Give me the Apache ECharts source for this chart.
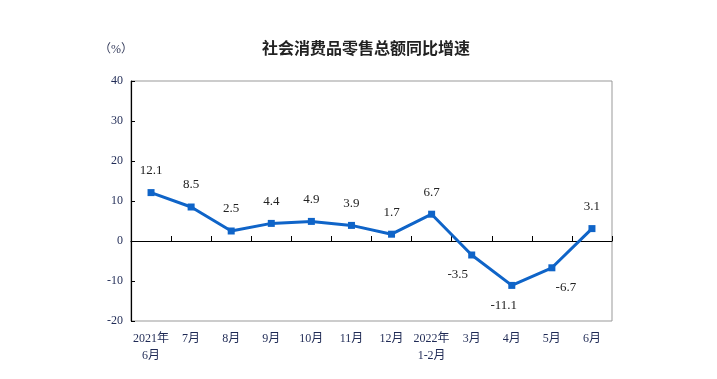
<!DOCTYPE html>
<html><head><meta charset="utf-8">
<script src="https://cdn.jsdelivr.net/npm/echarts@6/dist/echarts.min.js"></script>
<style>html,body{margin:0;padding:0;background:#fff}#c{width:717px;height:379px}</style>
</head><body><div id="c"></div>
<script>
var categories = ['2021年\n6月','7月','8月','9月','10月','11月','12月','2022年\n1-2月','3月','4月','5月','6月'];
var values = [12.1, 8.5, 2.5, 4.4, 4.9, 3.9, 1.7, 6.7, -3.5, -11.1, -6.7, 3.1];
var yTicks = [-20, -10, 0, 10, 20, 30, 40];
var title = '社会消费品零售总额同比增速';
var unit = '（%）';

var serif = '"Liberation Serif","Noto Sans CJK SC",serif';
var chart = echarts.init(document.getElementById('c'));
var data = values.map(function (v, i) {
  var lab = {};
  if (v < 0) {
    lab = { position: 'bottom', distance: 10 };
    if (i === 8) lab.offset = [-14, 0];
    if (i === 9) lab.offset = [-8, 0];
    if (i === 10) lab.offset = [14, 0];
  }
  return { value: v, label: lab };
});
chart.setOption({
  animation: false,
  title: { text: title, left: 361, textAlign: 'center', top: 35,
    textStyle: { fontFamily: '"Noto Sans CJK SC",sans-serif', fontSize: 16, fontWeight: 'bold', color: '#222' } },
  graphic: [{ type: 'text', left: 99, top: 44, style: { text: unit, fontFamily: serif, fontSize: 12, fill: '#333a5a' } }],
  grid: { left: 131, right: 105, top: 81, bottom: 58, show: true, borderColor: '#999', borderWidth: 1 },
  xAxis: [{
    type: 'category', data: categories, position: 'bottom',
    axisLine: { show: false, onZero: false }, axisTick: { show: false },
    axisLabel: { interval: 0, margin: 9, fontFamily: serif, fontSize: 12, color: '#1f2a55', lineHeight: 17 }
  }, {
    type: 'category', data: categories, position: 'top',
    axisLine: { show: true, onZero: true, lineStyle: { color: '#000', width: 1.2 } },
    axisTick: { show: true, inside: false, interval: 0, length: 5, lineStyle: { color: '#000' } },
    axisLabel: { show: false }
  }],
  yAxis: {
    type: 'value', min: yTicks[0], max: yTicks[yTicks.length - 1], interval: 10,
    axisLine: { show: true, lineStyle: { color: '#000', width: 1.2 } },
    axisTick: { show: true, inside: true, length: 4, lineStyle: { color: '#000' } },
    splitLine: { show: false },
    axisLabel: { margin: 8, fontFamily: serif, fontSize: 12, color: '#1f2a55' }
  },
  series: [{
    type: 'line', data: data, xAxisIndex: 0,
    symbol: 'rect', symbolSize: 7,
    lineStyle: { color: '#0f64c8', width: 3 },
    itemStyle: { color: '#0f64c8' },
    label: { show: true, position: 'top', distance: 12, fontFamily: serif, fontSize: 13, color: '#222',
      formatter: function (p) { return p.value.toFixed(1); } }
  }]
});
</script></body></html>
